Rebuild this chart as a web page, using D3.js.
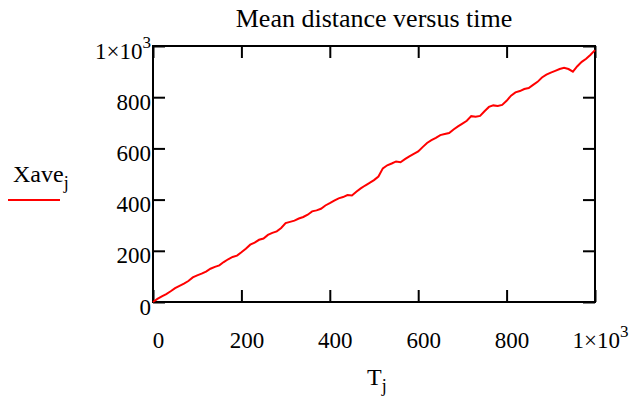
<!DOCTYPE html>
<html>
<head>
<meta charset="utf-8">
<script src="https://cdn.jsdelivr.net/npm/d3@7"></script>
<style>
  body { margin: 0; background: #fff; }
  svg text { font-family: "Liberation Serif", "Times New Roman", serif; fill: #000; }
</style>
</head>
<body>
<div id="chart"></div>
<script>
// time index T_j
const T = [0, 10, 20, 30, 40, 50, 60, 70, 80, 90,
    100, 110, 120, 130, 140, 150, 160, 170, 180, 190,
    200, 210, 220, 230, 240, 250, 260, 270, 280, 290,
    300, 310, 320, 330, 340, 350, 360, 370, 380, 390,
    400, 410, 420, 430, 440, 450, 460, 470, 480, 490,
    500, 510, 520, 530, 540, 550, 560, 570, 580, 590,
    600, 610, 620, 630, 640, 650, 660, 670, 680, 690,
    700, 710, 720, 730, 740, 750, 760, 770, 780, 790,
    800, 810, 820, 830, 840, 850, 860, 870, 880, 890,
    900, 910, 920, 930, 940, 950, 960, 970, 980, 990, 1000];

// mean distance Xave_j
const Xave = [0, 12, 22, 31, 42, 54, 63, 72, 82, 96,
    104, 111, 119, 130, 137, 143, 156, 167, 176, 181,
    194, 208, 224, 232, 243, 248, 262, 270, 276, 289,
    308, 313, 318, 326, 332, 341, 354, 358, 364, 377,
    386, 396, 405, 410, 418, 416, 431, 444, 455, 465,
    476, 490, 522, 534, 541, 549, 546, 558, 569, 579,
    588, 605, 621, 632, 641, 652, 656, 660, 674, 686,
    697, 708, 726, 724, 727, 745, 762, 768, 766, 770,
    786, 806, 819, 824, 832, 836, 848, 860, 877, 888,
    896, 903, 910, 915, 910, 900, 921, 938, 950, 966, 984];

const xTicks = [0, 200, 400, 600, 800, 1000];
const yTicks = [0, 200, 400, 600, 800, 1000];

const width = 630;
const height = 399;
const pLeft = 153, pRight = 595, pTop = 46, pBottom = 302;
const serif = '"Liberation Serif", "Times New Roman", serif';

const svg = d3.select("#chart")
    .append("svg")
    .attr("width", width)
    .attr("height", height)
    .attr("font-family", serif);

const x = d3.scaleLinear().domain([0, 1000]).range([pLeft, pRight]);
const y = d3.scaleLinear().domain([0, 1000]).range([pBottom, pTop]);

function fmt(sel) {
    // Mathcad style 1x10^3 labels
    sel.each(function (d) {
        const t = d3.select(this);
        if (d === 1000) {
            t.text(null);
            t.append("tspan").text("1×10");
            t.append("tspan").attr("dy", -11).attr("font-size", "17px").text("3");
        }
    });
}

// bottom axis
const gx = svg.append("g")
    .attr("transform", "translate(0," + pBottom + ")")
    .call(d3.axisBottom(x).tickValues(xTicks).tickSizeInner(-12).tickSizeOuter(0).tickFormat(d3.format("d")));
gx.attr("font-family", serif);
gx.selectAll("text")
    .attr("y", 46).attr("dy", null).attr("dx", 5)
    .attr("font-size", "23px")
    .style("font-family", serif)
    .call(fmt);

// left axis
const gy = svg.append("g")
    .attr("transform", "translate(" + pLeft + ",0)")
    .call(d3.axisLeft(y).tickValues(yTicks).tickSizeInner(-12).tickSizeOuter(0).tickFormat(d3.format("d")));
gy.attr("font-family", serif);
gy.selectAll("text")
    .attr("x", -2).attr("dy", 12)
    .attr("font-size", "23px")
    .style("font-family", serif)
    .call(fmt);

// top and right ticks, no labels
svg.append("g")
    .attr("transform", "translate(0," + pTop + ")")
    .call(d3.axisTop(x).tickValues(xTicks).tickSizeInner(-12).tickSizeOuter(0).tickFormat(""));
svg.append("g")
    .attr("transform", "translate(" + pRight + ",0)")
    .call(d3.axisRight(y).tickValues(yTicks).tickSizeInner(-12).tickSizeOuter(0).tickFormat(""));

svg.selectAll(".domain").remove();
svg.selectAll(".tick line").attr("stroke", "#000").attr("stroke-width", 2);

// frame
svg.append("rect")
    .attr("x", pLeft).attr("y", pTop)
    .attr("width", pRight - pLeft).attr("height", pBottom - pTop)
    .attr("fill", "none").attr("stroke", "#000").attr("stroke-width", 2);

// data line
const line = d3.line()
    .x((d, i) => x(T[i]))
    .y(d => y(d));

svg.append("path")
    .datum(Xave)
    .attr("d", line)
    .attr("fill", "none")
    .attr("stroke", "#ff0000")
    .attr("stroke-width", 2);

// title
svg.append("text")
    .attr("x", (pLeft + pRight) / 2)
    .attr("y", 27)
    .attr("text-anchor", "middle")
    .attr("font-size", "26px")
    .text("Mean distance versus time");

// x label
const xl = svg.append("text")
    .attr("x", 367).attr("y", 385)
    .attr("font-size", "24px");
xl.append("tspan").text("T");
xl.append("tspan").attr("dy", 7).attr("font-size", "18px").text("j");

// y label with legend line
const yl = svg.append("text")
    .attr("x", 13).attr("y", 182)
    .attr("font-size", "24px");
yl.append("tspan").text("Xave");
yl.append("tspan").attr("dy", 7).attr("font-size", "18px").text("j");

svg.append("line")
    .attr("x1", 8).attr("x2", 60)
    .attr("y1", 200).attr("y2", 200)
    .attr("stroke", "#ff0000").attr("stroke-width", 2);
</script>
</body>
</html>
